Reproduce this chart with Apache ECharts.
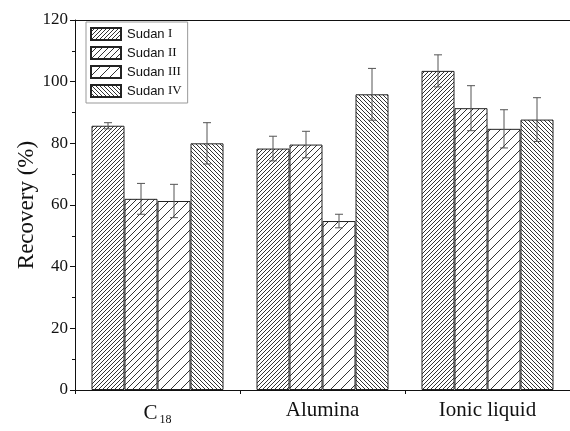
<!DOCTYPE html>
<html><head><meta charset="utf-8">
<script src="https://cdn.jsdelivr.net/npm/echarts@6/dist/echarts.min.js"></script>
<style>html,body{margin:0;padding:0;background:#fff}#c{width:570px;height:431px}</style>
</head><body><div id="c"></div>
<script>
const categories = ['C18', 'Alumina', 'Ionic liquid'];
const seriesNames = ['Sudan I', 'Sudan II', 'Sudan III', 'Sudan IV'];
const sudan1 = [85.7, 78.3, 103.5];
const sudan1Err = [1.0, 4.0, 5.2];
const sudan2 = [62.0, 79.6, 91.4];
const sudan2Err = [5.0, 4.3, 7.3];
const sudan3 = [61.3, 54.8, 84.7];
const sudan3Err = [5.4, 2.2, 6.2];
const sudan4 = [80.0, 95.9, 87.7];
const sudan4Err = [6.7, 8.4, 7.1];
const yTicks = [0, 20, 40, 60, 80, 100, 120];

const values = [sudan1, sudan2, sudan3, sudan4];
const errors = [sudan1Err, sudan2Err, sudan3Err, sudan4Err];

function hatch(s, dir) {
  const c = document.createElement('canvas');
  c.width = c.height = s;
  const g = c.getContext('2d');
  g.fillStyle = '#fff'; g.fillRect(0, 0, s, s);
  g.strokeStyle = '#333'; g.lineWidth = 1;
  g.beginPath();
  if (dir > 0) {
    g.moveTo(-1, s + 1); g.lineTo(s + 1, -1);
    g.moveTo(-1, 1); g.lineTo(1, -1);
    g.moveTo(s - 1, s + 1); g.lineTo(s + 1, s - 1);
  } else {
    g.moveTo(-1, -1); g.lineTo(s + 1, s + 1);
    g.moveTo(s - 1, -1); g.lineTo(s + 1, 1);
    g.moveTo(-1, s - 1); g.lineTo(1, s + 1);
  }
  g.stroke();
  return c;
}
const patterns = [hatch(4, 1), hatch(6, 1), hatch(10, 1), hatch(4, -1)];

const serif = '"Liberation Serif", "Times New Roman", serif';
const sans = '"Liberation Sans", Arial, sans-serif';

const barSeries = seriesNames.map((n, i) => ({
  name: n, type: 'bar', data: values[i],
  barGap: '0%', barCategoryGap: '20%',
  itemStyle: { color: { image: patterns[i], repeat: 'repeat' }, borderColor: '#222', borderWidth: 1 },
  emphasis: { disabled: true }
}));

const errData = [];
values.forEach((arr, si) => arr.forEach((v, ci) => errData.push([ci, si, v, errors[si][ci]])));

const errSeries = {
  type: 'custom', data: errData, z: 10, silent: true,
  renderItem: function (params, api) {
    const ci = api.value(0), si = api.value(1), v = api.value(2), e = api.value(3);
    const band = api.size([1, 0])[0];
    const bw = band * 0.8 / 4;
    const p = api.coord([ci, v]);
    const x = p[0] + (si - 1.5) * bw;
    const top = api.coord([ci, v + e])[1];
    const bot = api.coord([ci, v - e])[1];
    const cap = 4;
    const st = { stroke: '#555', lineWidth: 1 };
    return { type: 'group', children: [
      { type: 'line', shape: { x1: x, y1: top, x2: x, y2: bot }, style: st },
      { type: 'line', shape: { x1: x - cap, y1: top, x2: x + cap, y2: top }, style: st },
      { type: 'line', shape: { x1: x - cap, y1: bot, x2: x + cap, y2: bot }, style: st }
    ] };
  }
};

const chart = echarts.init(document.getElementById('c'), null, { renderer: 'canvas' });
chart.setOption({
  animation: false,
  backgroundColor: '#fff',
  grid: { left: 75, top: 20, width: 497, height: 370, containLabel: false },
  legend: {
    orient: 'vertical', left: 86, top: 22, data: seriesNames,
    itemWidth: 30, itemHeight: 12, itemGap: 5,
    borderColor: '#999', borderWidth: 1, padding: [5, 6, 5, 4],
    backgroundColor: '#fff',
    icon: 'rect',
    formatter: function (name) {
      const parts = name.split(' ');
      return '{a|' + parts[0] + '} {b|' + parts[1] + '}';
    },
    textStyle: { lineHeight: 13, padding: [0, 0, 0, 1], rich: {
      a: { fontFamily: sans, fontSize: 13, lineHeight: 13, color: '#111' },
      b: { fontFamily: serif, fontSize: 13, lineHeight: 13, color: '#111' }
    } }
  },
  xAxis: [{
    type: 'category', data: categories, boundaryGap: true,
    axisLine: { lineStyle: { color: '#111', width: 1 } },
    axisTick: { show: true, length: 4, lineStyle: { color: '#111' } },
    axisLabel: {
      interval: 0, hideOverlap: false,
      margin: 10, color: '#111', fontFamily: serif, fontSize: 21,
      formatter: function (v) { return v === 'C18' ? '{m|C}{s|18}' : '{m|' + v + '}'; },
      rich: {
        m: { fontFamily: serif, fontSize: 21, color: '#111' },
        s: { fontFamily: serif, fontSize: 12, color: '#111', verticalAlign: 'bottom', padding: [14, 0, 0, 2] }
      }
    }
  }, {
    type: 'category', data: categories, position: 'top',
    axisLine: { show: true, lineStyle: { color: '#111', width: 1 } },
    axisTick: { show: false }, axisLabel: { show: false }
  }],
  yAxis: {
    type: 'value', min: yTicks[0], max: yTicks[yTicks.length - 1], interval: 20,
    name: 'Recovery (%)', nameLocation: 'middle', nameGap: 37, nameMoveOverlap: false,
    nameTextStyle: { fontFamily: serif, fontSize: 23, color: '#111' },
    axisLine: { show: true, lineStyle: { color: '#111', width: 1 } },
    axisTick: { show: true, length: 5, lineStyle: { color: '#111' } },
    minorTick: { show: true, splitNumber: 2, length: 3, lineStyle: { color: '#111' } },
    splitLine: { show: false },
    axisLabel: { margin: 7, color: '#111', fontFamily: serif, fontSize: 17 }
  },
  series: barSeries.concat([errSeries])
});
</script>
</body></html>
